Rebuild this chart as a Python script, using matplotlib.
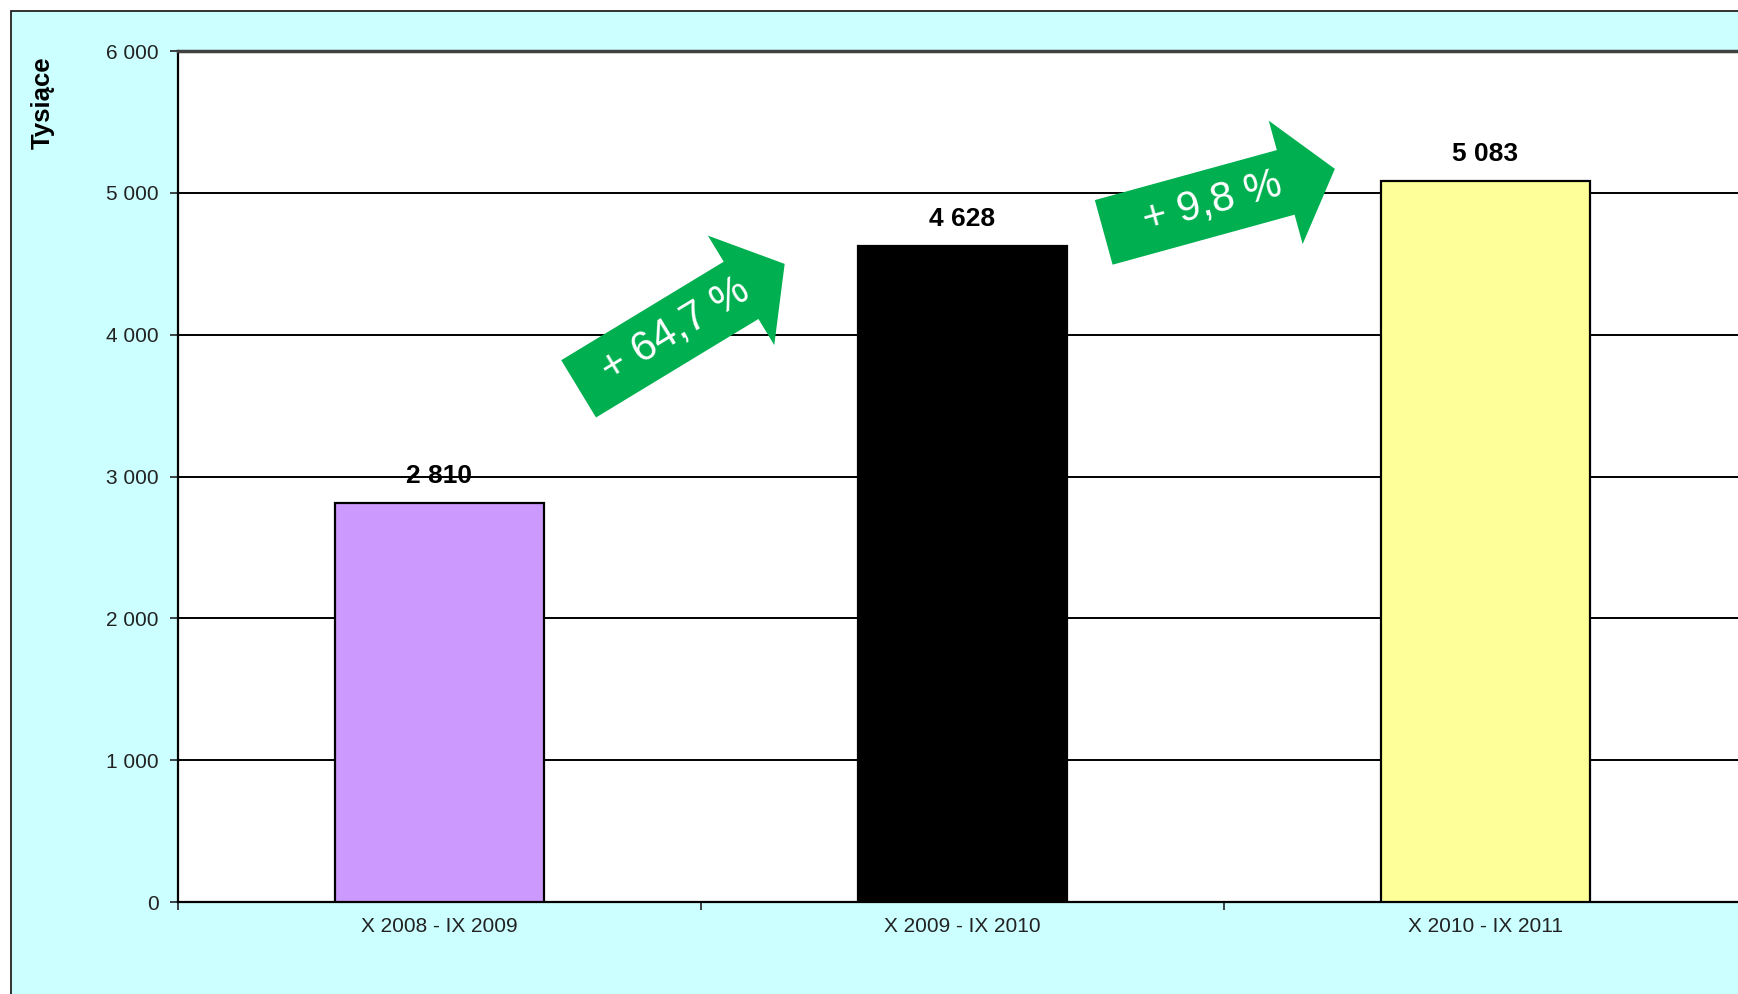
import matplotlib
matplotlib.use("Agg")
import matplotlib.pyplot as plt
from matplotlib.patches import Rectangle, Polygon
from matplotlib.transforms import IdentityTransform
import numpy as np

plt.rcParams['font.family'] = ['Liberation Sans', 'DejaVu Sans']

categories = ["X 2008 - IX 2009", "X 2009 - IX 2010", "X 2010 - IX 2011"]
values = [2810, 4628, 5083]
bar_colors = ["#CC99FF", "#000000", "#FFFF99"]
y_ticks = [0, 1000, 2000, 3000, 4000, 5000, 6000]
y_label = "Tysiące"

# arrows between bars: (tail x, tail y, tip x, tip y) in data units
arrows = [(0.266, 3618, 0.660, 4499), (1.270, 4721, 1.712, 5169)]

W, H = 1738, 994
fig = plt.figure(figsize=(W / 100, H / 100), dpi=100)
fig.patch.set_facecolor("white")

# outer chart frame (cut off on right and bottom)
frame = Rectangle((11 / W, -0.1), 1.2, 1 - 11 / H + 0.1, transform=fig.transFigure,
                  facecolor="#CCFFFF", edgecolor="#222222", linewidth=1.3, zorder=-10)
fig.patches.append(frame)

ax = fig.add_axes([178 / W, (H - 902) / H, 1569 / W, 851 / H])
ax.set_facecolor("white")
ax.set_zorder(1)

x = np.arange(len(categories))
ax.bar(x, values, width=0.4, color=bar_colors, edgecolor="black", linewidth=1.6, zorder=3)

ax.set_xlim(-0.5, len(categories) - 0.5)
ax.set_ylim(0, 6000)
ax.set_yticks(y_ticks)
ax.set_yticklabels([f"{v:,}".replace(",", " ") for v in y_ticks])

for v in y_ticks[1:-1]:
    ax.axhline(v, color="black", linewidth=1.4, zorder=1)

ax.set_xticks(x)
ax.set_xticklabels(categories)
ax.set_xticks(np.arange(-0.5, len(categories), 1.0), minor=True)
ax.tick_params(axis="x", which="major", length=0, pad=11, labelsize=15, labelcolor="#222222")
ax.tick_params(axis="x", which="minor", length=6, width=1.2, direction="out", color="#222222")
ax.tick_params(axis="y", length=6, width=1.2, direction="out", pad=8, labelsize=15,
               labelcolor="#222222", color="#222222")

ax.spines["top"].set_color("#404040")
ax.spines["top"].set_linewidth(2.5)
ax.spines["left"].set_color("black")
ax.spines["left"].set_linewidth(1.6)
ax.spines["bottom"].set_color("black")
ax.spines["bottom"].set_linewidth(1.6)
ax.spines["right"].set_visible(False)

for xi, v in zip(x, values):
    ax.annotate(f"{v:,}".replace(",", " "), (xi, v), xytext=(0, 27), textcoords="offset pixels",
                ha="center", va="center", fontsize=19, fontweight="bold", color="black", zorder=5)

fig.text(43 / W, 1 - 103 / H, y_label, rotation=90, ha="center", va="center",
         fontsize=18.5, fontweight="bold", color="black")

# green block arrows with growth percentages
fig.canvas.draw()
shaft_w, head_w, head_l = 67, 128, 51
for i, (tx, ty, hx, hy) in enumerate(arrows):
    p0 = ax.transData.transform((tx, ty))
    p1 = ax.transData.transform((hx, hy))
    d = p1 - p0
    L = np.hypot(*d)
    u = d / L
    n = np.array([-u[1], u[0]])
    b = p0 + u * (L - head_l)
    pts = [p0 + n * shaft_w / 2, b + n * shaft_w / 2, b + n * head_w / 2, p1,
           b - n * head_w / 2, b - n * shaft_w / 2, p0 - n * shaft_w / 2]
    fig.patches.append(Polygon(pts, closed=True, transform=IdentityTransform(),
                               facecolor="#00B050", edgecolor="none", zorder=10))
    pct = (values[i + 1] / values[i] - 1) * 100
    label = "+ " + f"{pct:.1f}".replace(".", ",") + " %"
    c = p0 + u * 113
    ang = np.degrees(np.arctan2(d[1], d[0]))
    fig.text(c[0] / W, c[1] / H, label, rotation=ang, rotation_mode="anchor",
             ha="center", va="center", fontsize=30, color="white", zorder=11)

fig.savefig("out.png", dpi=100)
